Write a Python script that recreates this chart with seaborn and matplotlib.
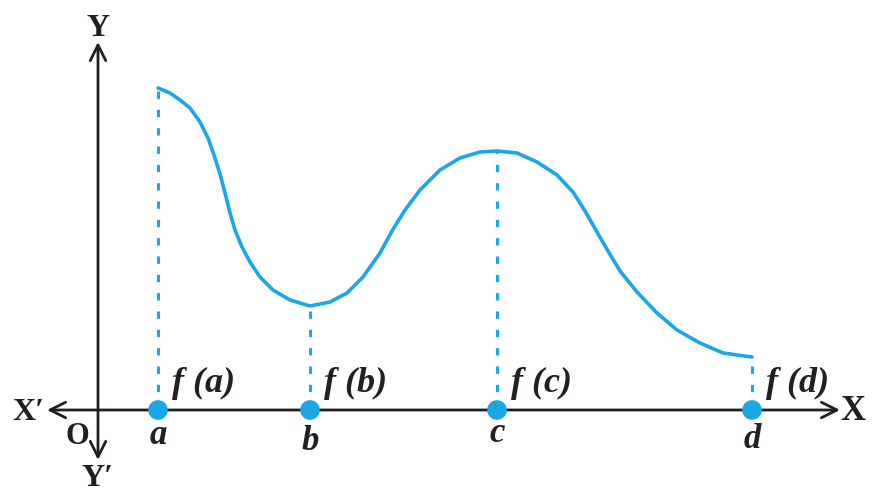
import matplotlib
matplotlib.use("Agg")
import matplotlib.pyplot as plt
import seaborn as sns
import pandas as pd

# curve samples, origin O at (0, 0)
curve_x = [60, 72, 82, 92, 102, 110, 116, 122, 127, 132, 137, 144, 152, 162, 175,
           192, 212, 232, 249, 265, 282, 294, 307, 322, 342, 362, 382, 399, 419,
           439, 459, 475, 487, 499, 510, 522, 539, 559, 579, 602, 625, 654]
curve_y = [322, 317, 310, 302, 288, 272, 255, 236, 217, 197, 180, 163, 148, 133, 120,
           110, 104, 108, 117, 133, 157, 179, 200, 220, 240, 252, 258, 259, 257,
           248, 235, 218, 199, 178, 159, 139, 118, 97, 80, 67, 57, 53]

point_names = ["a", "b", "c", "d"]
point_x = [60, 212, 399, 654]
point_f = [322, 104, 259, 53]

BLUE = "#1aa7e6"
INK = "#231f20"
SERIF = "Liberation Serif"


def main():
    sns.set_theme(style="white")
    fig = plt.figure(figsize=(8.8, 4.95), dpi=100)
    ax = fig.add_axes([0, 0, 1, 1])
    ax.set_xlim(-98, 782)
    ax.set_ylim(-85, 410)
    ax.axis("off")

    # axes with arrow heads
    arrow = dict(arrowstyle="<->", lw=2.0, color=INK, mutation_scale=28,
                 shrinkA=0, shrinkB=0)
    ax.annotate("", xy=(742, 0), xytext=(-51, 0), arrowprops=arrow, zorder=2)
    ax.annotate("", xy=(0, 368), xytext=(0, -50), arrowprops=arrow, zorder=2)

    # dotted drops from the curve to the x axis
    for x, f in zip(point_x, point_f):
        ax.plot([x, x], [0, f], color=BLUE, lw=2.2, linestyle=(0, (2.4, 3.6)),
                solid_capstyle="butt", zorder=3)

    df = pd.DataFrame({"x": curve_x, "y": curve_y})
    sns.lineplot(data=df, x="x", y="y", ax=ax, color=BLUE, lw=2.6, sort=False,
                 zorder=4)
    ax.lines[-1].set_solid_joinstyle("round")

    pts = pd.DataFrame({"x": point_x, "y": [0] * len(point_x)})
    sns.scatterplot(data=pts, x="x", y="y", ax=ax, color=BLUE, s=200,
                    edgecolor="none", zorder=5)

    lab = dict(family=SERIF, weight="bold", color=INK)
    ax.text(0, 382, "Y", fontsize=23, ha="center", va="center", **lab)
    ax.text(0, -68, "Y\u2032", fontsize=23, ha="center", va="center", **lab)
    ax.text(-70, -2, "X\u2032", fontsize=23, ha="center", va="center", **lab)
    ax.text(755, -2, "X", fontsize=25, ha="center", va="center", **lab)
    ax.text(-21, -27, "O", fontsize=22, ha="center", va="center", **lab)

    name_y = [-25, -31, -23, -30]
    for name, x, ny in zip(point_names, point_x, name_y):
        ax.text(x, ny, name, fontsize=25, style="italic", ha="center",
                va="center", **lab)
        ax.text(x + 14, 27, f"f ({name})", fontsize=26, style="italic",
                ha="left", va="center", **lab)

    fig.savefig("out.png", dpi=100)
    plt.close(fig)


if __name__ == "__main__":
    main()
